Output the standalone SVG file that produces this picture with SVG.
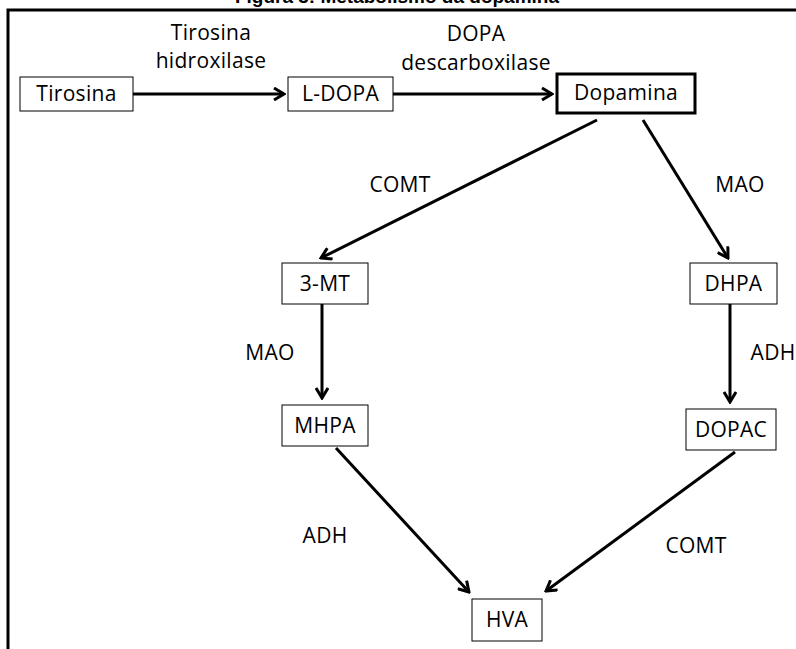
<svg xmlns="http://www.w3.org/2000/svg" width="796" height="649" viewBox="0 0 796 649">
<style>
text{font-family:"Open Sans","Liberation Sans",sans-serif;font-size:21px;fill:#000;text-anchor:middle;letter-spacing:0.3px}
.title{font-family:"Liberation Sans",Arial,sans-serif;font-weight:bold;font-size:19px;letter-spacing:0}
.box{fill:#fff;stroke:#000;stroke-width:1}
.thick{fill:#fff;stroke:#000;stroke-width:3}
.edge{stroke:#000;stroke-width:3;fill:none;marker-end:url(#arr)}
</style>
<defs>
<marker id="arr" markerUnits="userSpaceOnUse" viewBox="0 0 14 14" refX="12" refY="7" markerWidth="14" markerHeight="14" orient="auto">
<path d="M2,1 L12,7 L2,13" fill="none" stroke="#000" stroke-width="3"/>
</marker>
</defs>
<rect width="796" height="649" fill="#fff"/>
<text class="title" x="397" y="3">Figura 3: Metabolismo da dopamina</text>
<path d="M8,649 V10 H796" fill="none" stroke="#000" stroke-width="3"/>
<g id="connectors">
<line class="edge" x1="133" y1="94" x2="284" y2="94"/>
<line class="edge" x1="393" y1="94" x2="552" y2="94"/>
<line class="edge" x1="597" y1="120" x2="321" y2="258"/>
<line class="edge" x1="643" y1="120" x2="728" y2="258"/>
<line class="edge" x1="322" y1="304" x2="322" y2="398"/>
<line class="edge" x1="730" y1="304" x2="730" y2="402"/>
<line class="edge" x1="336" y1="448" x2="469" y2="592"/>
<line class="edge" x1="735" y1="452" x2="546" y2="591"/>
<g id="labels">
<text x="211" y="40">Tirosina</text>
<text x="211" y="68">hidroxilase</text>
<text x="476" y="41">DOPA</text>
<text x="476" y="70">descarboxilase</text>
<text x="400" y="192">COMT</text>
<text x="740" y="192">MAO</text>
<text x="270" y="360">MAO</text>
<text x="773" y="360">ADH</text>
<text x="325" y="543">ADH</text>
<text x="696" y="553">COMT</text>
</g>
</g>
<g id="tirosina"><rect class="box" x="20" y="77" width="113" height="34"/><text x="76.5" y="101">Tirosina</text></g>
<g id="ldopa"><rect class="box" x="288" y="77" width="105" height="34"/><text x="340.5" y="101">L-DOPA</text></g>
<g id="dopamina"><rect class="thick" x="557" y="74" width="138" height="39"/><text x="626" y="100">Dopamina</text></g>
<g id="mt3"><rect class="box" x="282" y="263" width="86" height="41"/><text x="325" y="291">3-MT</text></g>
<g id="dhpa"><rect class="box" x="690" y="263" width="87" height="41"/><text x="733.5" y="291">DHPA</text></g>
<g id="mhpa"><rect class="box" x="282" y="405" width="86" height="41"/><text x="325" y="433">MHPA</text></g>
<g id="dopac"><rect class="box" x="686" y="409" width="90" height="41"/><text x="731" y="437">DOPAC</text></g>
<g id="hva"><rect class="box" x="472" y="599" width="70" height="42"/><text x="507" y="627">HVA</text></g>
</svg>
